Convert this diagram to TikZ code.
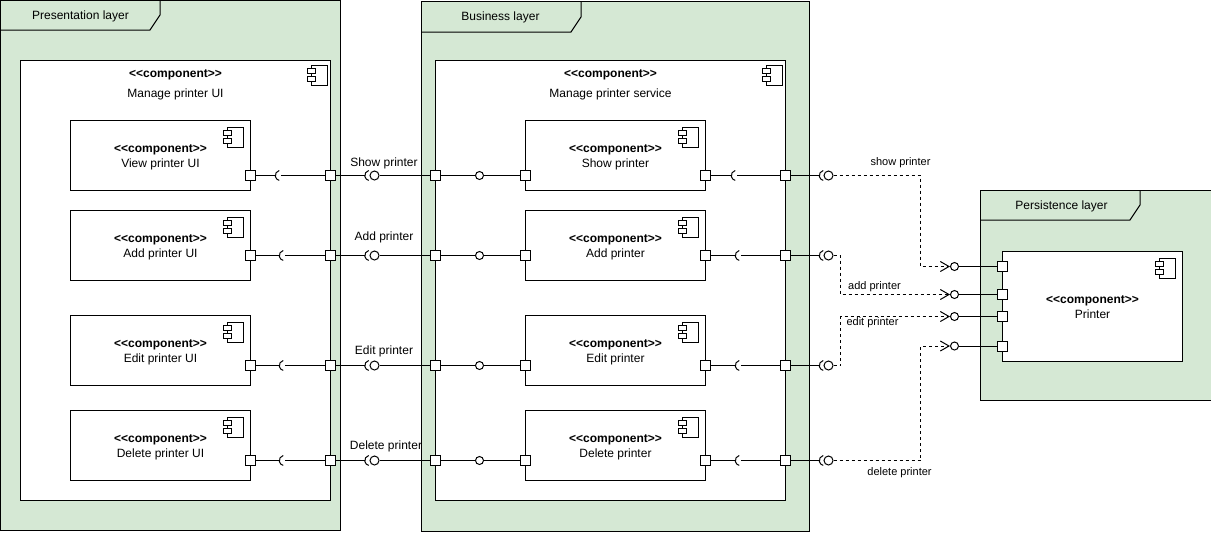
\documentclass[tikz,border=0pt]{standalone}
\usepackage{fontspec}
\setmainfont[Ligatures=NoCommon]{Liberation Sans}
\usepackage{tikz}
\usetikzlibrary{arrows.meta}
\definecolor{layergreen}{HTML}{D5E8D4}
\tikzstyle{line} = [draw, line width=0.75pt]
\tikzstyle{dep} = [draw, line width=0.75pt, dash pattern=on 2.25pt off 2.25pt]
\tikzstyle{depend} = [dep, -{Straight Barb[length=6.5pt,width=7.5pt]}]
\tikzstyle{layer} = [draw, line width=0.75pt, fill=layergreen, inner sep=0pt]
\tikzstyle{comp} = [draw, line width=0.75pt, fill=white, inner sep=0pt, align=center]
\tikzstyle{subcomp} = [comp, minimum width=135pt, minimum height=52.5pt]
\tikzstyle{port} = [draw, line width=0.75pt, fill=white, inner sep=0pt, minimum size=7.5pt]
\tikzstyle{ball} = [draw, circle, line width=0.75pt, fill=white, inner sep=0pt, minimum size=6.75pt]
\tikzstyle{smallball} = [ball, minimum size=6pt]
\tikzset{
	sock/.style={circle, inner sep=0pt, minimum size=3.75pt,
		append after command={\pgfextra{\draw[line width=0.75pt] (\tikzlastnode.west) ++(4,-5) arc[start angle=257,end angle=103,radius=5.1];}}},
	compicon/.pic={
		\draw[line width=0.75pt, fill=white] (-16,0) rectangle (0,20);
		\draw[line width=0.75pt, fill=white] (-20,3.5) rectangle (-12,8.5);
		\draw[line width=0.75pt, fill=white] (-20,11.5) rectangle (-12,16.5);
	},
	small/.style={font=\fontsize{8.25}{9.5}\selectfont}
}
\newcommand{\stereo}{\rule{0pt}{8.8pt}\textbf{<{}<component>{}>}}

\begin{document}
\begin{tikzpicture}[x=0.75pt,y=-0.75pt]
	\tikzstyle{every node}=[font=\fontsize{9}{11.25}\selectfont]
	\useasboundingbox (-0.5,-0.5) rectangle (1210.5,532.5);
	
	% ------------------- Layers ------------------- %
	\node[layer, minimum width=255pt, minimum height=397.5pt] (presLayer) at (170,265) {};
	\draw[line width=0.75pt] (presLayer.north west) ++(160,0) -- ++(0,15) -- ++(-10,15) -- ++(-150,0);
	\node (presTitle) at (80,16) {Presentation layer};
	
	\node[layer, minimum width=291pt, minimum height=397.5pt] (busLayer) at (615,266) {};
	\draw[line width=0.75pt] (busLayer.north west) ++(160,0) -- ++(0,16) -- ++(-10,15) -- ++(-150,0);
	\node (busTitle) at (500,17) {Business layer};
	
	\node[layer, minimum width=174pt, minimum height=157.5pt] (perLayer) at (1096,295) {};
	\draw[line width=0.75pt] (perLayer.north west) ++(160,0) -- ++(0,15) -- ++(-10,15) -- ++(-150,0);
	\node (perTitle) at (1061,206) {Persistence layer};
	
	% ------------------- Outer components ------------------- %
	\node[comp, minimum width=232.5pt, minimum height=330pt] (uiBox) at (175,280) {};
	\pic at ([shift={(-4,5)}]uiBox.north east) {compicon};
	\node (uiStereo) at (175,72) {\stereo};
	\node (uiName) at (175,93.5) {Manage printer UI};
	
	\node[comp, minimum width=262.5pt, minimum height=330pt] (svcBox) at (610,280) {};
	\pic at ([shift={(-4,5)}]svcBox.north east) {compicon};
	\node (svcStereo) at (610,72) {\stereo};
	\node (svcName) at (610,93.5) {Manage printer service};
	
	\node[subcomp, minimum height=82.5pt] (printerBox) at (1092,306) {};
	\node[align=center] (printerText) at (1092,304.5) {\stereo\\Printer};
	\pic at ([shift={(-8,7)}]printerBox.north east) {compicon};
	
	% ------------------- UI components ------------------- %
	\node[subcomp] (uiShow) at (160,155) {\stereo\\View printer UI};
	\node[subcomp] (uiAdd) at (160,245) {\stereo\\Add printer UI};
	\node[subcomp] (uiEdit) at (160,350) {\stereo\\Edit printer UI};
	\node[subcomp] (uiDel) at (160,445) {\stereo\\Delete printer UI};
	\pic at ([shift={(-8,7)}]uiShow.north east) {compicon};
	\pic at ([shift={(-8,7)}]uiAdd.north east) {compicon};
	\pic at ([shift={(-8,7)}]uiEdit.north east) {compicon};
	\pic at ([shift={(-8,7)}]uiDel.north east) {compicon};
	
	% ------------------- Service components ------------------- %
	\node[subcomp] (svcShow) at (615,155) {\stereo\\Show printer};
	\node[subcomp] (svcAdd) at (615,245) {\stereo\\Add printer};
	\node[subcomp] (svcEdit) at (615,350) {\stereo\\Edit printer};
	\node[subcomp] (svcDel) at (615,445) {\stereo\\Delete printer};
	\pic at ([shift={(-8,7)}]svcShow.north east) {compicon};
	\pic at ([shift={(-8,7)}]svcAdd.north east) {compicon};
	\pic at ([shift={(-8,7)}]svcEdit.north east) {compicon};
	\pic at ([shift={(-8,7)}]svcDel.north east) {compicon};
	
	% ------------------- Ports ------------------- %
	\node[port] (pa1) at (250,175) {};
	\node[port] (pa2) at (250,255) {};
	\node[port] (pa3) at (250,365) {};
	\node[port] (pa4) at (250,460) {};
	\node[port] (pb1) at (330,175) {};
	\node[port] (pb2) at (330,255) {};
	\node[port] (pb3) at (330,365) {};
	\node[port] (pb4) at (330,460) {};
	\node[port] (pc1) at (435,175) {};
	\node[port] (pc2) at (435,255) {};
	\node[port] (pc3) at (435,365) {};
	\node[port] (pc4) at (435,460) {};
	\node[port] (pd1) at (525,175) {};
	\node[port] (pd2) at (525,255) {};
	\node[port] (pd3) at (525,365) {};
	\node[port] (pd4) at (525,460) {};
	\node[port] (pe1) at (705,175) {};
	\node[port] (pe2) at (705,255) {};
	\node[port] (pe3) at (705,365) {};
	\node[port] (pe4) at (705,460) {};
	\node[port] (pf1) at (785,175) {};
	\node[port] (pf2) at (785,255) {};
	\node[port] (pf3) at (785,365) {};
	\node[port] (pf4) at (785,460) {};
	\node[port] (pg1) at (1002,266) {};
	\node[port] (pg2) at (1002,294) {};
	\node[port] (pg3) at (1002,316) {};
	\node[port] (pg4) at (1002,345.5) {};
	
	% ------------------- Sockets ------------------- %
	\node[sock] (sa1) at (277.5,175) {};
	\node[sock] (sa2) at (281.5,255) {};
	\node[sock] (sa3) at (281.5,365) {};
	\node[sock] (sa4) at (281.5,460) {};
	\node[sock] (sb1) at (367,175) {};
	\node[sock] (sb2) at (367,255) {};
	\node[sock] (sb3) at (367,365) {};
	\node[sock] (sb4) at (367,460) {};
	\node[sock] (sc1) at (733.5,175) {};
	\node[sock] (sc2) at (737.5,255) {};
	\node[sock] (sc3) at (737.5,365) {};
	\node[sock] (sc4) at (737.5,460) {};
	\node[sock] (sd1) at (821.5,175) {};
	\node[sock] (sd2) at (821.5,255) {};
	\node[sock] (sd3) at (821.5,365) {};
	\node[sock] (sd4) at (821.5,460) {};
	
	% ------------------- Balls ------------------- %
	\node[ball] (ba1) at (374,175) {};
	\node[ball] (ba2) at (374,255) {};
	\node[ball] (ba3) at (374,365) {};
	\node[ball] (ba4) at (374,460) {};
	\node[smallball] (bb1) at (479,175) {};
	\node[smallball] (bb2) at (479,255) {};
	\node[smallball] (bb3) at (479,365) {};
	\node[smallball] (bb4) at (479,460) {};
	\node[ball] (bc1) at (828,175) {};
	\node[ball] (bc2) at (828,255) {};
	\node[ball] (bc3) at (828,365) {};
	\node[ball] (bc4) at (828,460) {};
	\node[smallball] (bd1) at (954,266) {};
	\node[smallball] (bd2) at (954,294) {};
	\node[smallball] (bd3) at (954,316) {};
	\node[smallball] (bd4) at (954,345.5) {};
	
	% ------------------- Wires ------------------- %
	\draw[line] (pa1) -- (sa1);
	\draw[line] (sa1) -- (pb1);
	\draw[line] (pb1) -- (sb1);
	\draw[line] (ba1) -- (pc1);
	\draw[line] (pc1) -- (bb1);
	\draw[line] (bb1) -- (pd1);
	\draw[line] (pe1) -- (sc1);
	\draw[line] (sc1) -- (pf1);
	\draw[line] (pf1) -- (sd1);
	
	\draw[line] (pa2) -- (sa2);
	\draw[line] (sa2) -- (pb2);
	\draw[line] (pb2) -- (sb2);
	\draw[line] (ba2) -- (pc2);
	\draw[line] (pc2) -- (bb2);
	\draw[line] (bb2) -- (pd2);
	\draw[line] (pe2) -- (sc2);
	\draw[line] (sc2) -- (pf2);
	\draw[line] (pf2) -- (sd2);
	
	\draw[line] (pa3) -- (sa3);
	\draw[line] (sa3) -- (pb3);
	\draw[line] (pb3) -- (sb3);
	\draw[line] (ba3) -- (pc3);
	\draw[line] (pc3) -- (bb3);
	\draw[line] (bb3) -- (pd3);
	\draw[line] (pe3) -- (sc3);
	\draw[line] (sc3) -- (pf3);
	\draw[line] (pf3) -- (sd3);
	
	\draw[line] (pa4) -- (sa4);
	\draw[line] (sa4) -- (pb4);
	\draw[line] (pb4) -- (sb4);
	\draw[line] (ba4) -- (pc4);
	\draw[line] (pc4) -- (bb4);
	\draw[line] (bb4) -- (pd4);
	\draw[line] (pe4) -- (sc4);
	\draw[line] (sc4) -- (pf4);
	\draw[line] (pf4) -- (sd4);
	
	\draw[line] (bd1) -- (pg1);
	\draw[line] (bd2) -- (pg2);
	\draw[line] (bd3) -- (pg3);
	\draw[line] (bd4) -- (pg4);
	
	% ------------------- Dashed dependencies ------------------- %
	\coordinate (turn1) at (920,266);
	\coordinate (turn2) at (840,294);
	\coordinate (turn3) at (840,316);
	\coordinate (turn4) at (920,345.5);
	\draw[depend] (bc1) -| (turn1) -- (bd1);
	\draw[depend] (bc2) -| (turn2) -- (bd2);
	\draw[depend] (bc3) -| (turn3) -- (bd3);
	\draw[depend] (bc4) -| (turn4) -- (bd4);
	
	% ------------------- Labels ------------------- %
	\node (lblShow) at (383.5,162.5) {Show printer};
	\node (lblAdd) at (383.5,236.5) {Add printer};
	\node (lblEdit) at (383.5,350.5) {Edit printer};
	\node (lblDel) at (385.5,445.5) {Delete printer};
	
	\node[small] (depShow) at (900,162.5) {show printer};
	\node[small] (depAdd) at (874,286.5) {add printer};
	\node[small] (depEdit) at (872,322.5) {edit printer};
	\node[small] (depDel) at (899,472.5) {delete printer};
\end{tikzpicture}
\end{document}
